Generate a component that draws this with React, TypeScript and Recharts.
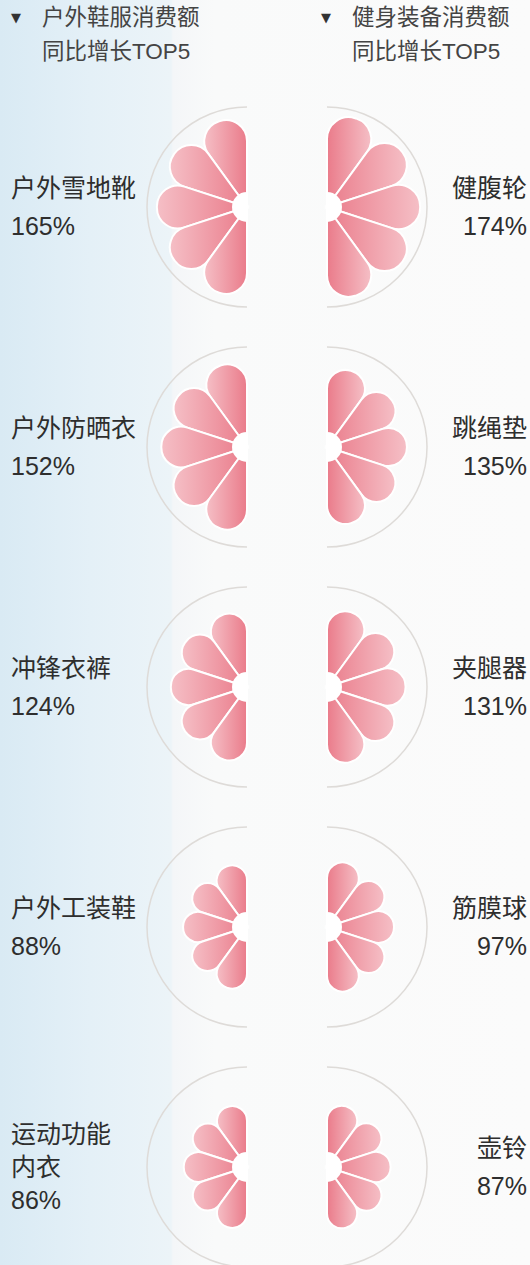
import React from 'react';
import { PieChart, Pie } from 'recharts';

const leftTitle = ['户外鞋服消费额', '同比增长TOP5'];
const rightTitle = ['健身装备消费额', '同比增长TOP5'];

const leftItems = [['户外雪地靴'], ['户外防晒衣'], ['冲锋衣裤'], ['户外工装鞋'], ['运动功能', '内衣']];
const leftGrowth = [165, 152, 124, 88, 86];
const rightItems = [['健腹轮'], ['跳绳垫'], ['夹腿器'], ['筋膜球'], ['壶铃']];
const rightGrowth = [174, 135, 131, 97, 87];

// five equal petals per half flower
const petals = [{ v: 1 }, { v: 1 }, { v: 1 }, { v: 1 }, { v: 1 }];
const single = [{ v: 1 }];

// growth % -> petal length
const petalRadius = (g: number) => 34 + 0.34 * g;

const FONT = '"Liberation Sans", "Noto Sans CJK SC", sans-serif';
const ROW_H = 240;
const FIRST_CY = 207;
const LCX = 247;
const RCX = 327;

function Flower({ row }: { row: number }) {
  const rl = petalRadius(leftGrowth[row]);
  const rr = petalRadius(rightGrowth[row]);
  const cy = ROW_H / 2;
  return (
    <PieChart width={530} height={ROW_H} margin={{ top: 0, right: 0, bottom: 0, left: 0 }}>
      <defs>
        <linearGradient id={`petalL${row}`} x1="0" y1="0" x2="1" y2="0">
          <stop offset="0%" stopColor="#f5bfc6" />
          <stop offset="100%" stopColor="#ea7b8a" />
        </linearGradient>
        <linearGradient id={`petalR${row}`} x1="0" y1="0" x2="1" y2="0">
          <stop offset="0%" stopColor="#ea7b8a" />
          <stop offset="100%" stopColor="#f5bfc6" />
        </linearGradient>
      </defs>
      <Pie data={single} dataKey="v" cx={LCX} cy={cy} startAngle={90} endAngle={270}
        innerRadius={100} outerRadius={100} fill="none" stroke="#dedbd8" strokeWidth={1.5}
        isAnimationActive={false} />
      <Pie data={single} dataKey="v" cx={RCX} cy={cy} startAngle={90} endAngle={-90}
        innerRadius={100} outerRadius={100} fill="none" stroke="#dedbd8" strokeWidth={1.5}
        isAnimationActive={false} />
      <Pie data={petals} dataKey="v" cx={LCX} cy={cy} startAngle={90} endAngle={270}
        innerRadius={0} outerRadius={rl} cornerRadius={rl * 0.232} paddingAngle={0}
        fill={`url(#petalL${row})`} stroke="#fff" strokeWidth={2} isAnimationActive={false} />
      <Pie data={petals} dataKey="v" cx={RCX} cy={cy} startAngle={90} endAngle={-90}
        innerRadius={0} outerRadius={rr} cornerRadius={rr * 0.232} paddingAngle={0}
        fill={`url(#petalR${row})`} stroke="#fff" strokeWidth={2} isAnimationActive={false} />
      <Pie data={single} dataKey="v" cx={LCX} cy={cy} startAngle={90} endAngle={270}
        innerRadius={0} outerRadius={15} fill="#fff" stroke="none" isAnimationActive={false} />
      <Pie data={single} dataKey="v" cx={RCX} cy={cy} startAngle={90} endAngle={-90}
        innerRadius={0} outerRadius={15} fill="#fff" stroke="none" isAnimationActive={false} />
    </PieChart>
  );
}

function Label({ row, side }: { row: number; side: 'left' | 'right' }) {
  const lines = side === 'left' ? leftItems[row] : rightItems[row];
  const growth = side === 'left' ? leftGrowth[row] : rightGrowth[row];
  const all = [...lines, `${growth}%`];
  const lh = all.length > 2 ? 33 : 38;
  const cy = FIRST_CY + row * ROW_H;
  const pos: React.CSSProperties = side === 'left' ? { left: 11, textAlign: 'left' } : { right: 3, textAlign: 'right' };
  return (
    <div style={{ position: 'absolute', top: cy - (all.length * lh) / 2, ...pos, fontSize: 25, lineHeight: `${lh}px`, color: '#2e2e2e', whiteSpace: 'nowrap' }}>
      {all.map((t, i) => <div key={i}>{t}</div>)}
    </div>
  );
}

function Header({ lines, x }: { lines: string[]; x: number }) {
  return (
    <div style={{ position: 'absolute', top: 1, left: x, color: '#444', fontSize: 22.5, lineHeight: '34px', whiteSpace: 'nowrap' }}>
      <span style={{ position: 'absolute', left: -31, top: 0, fontSize: 13, color: '#333', fontFamily: '"DejaVu Sans", sans-serif' }}>▼</span>
      {lines.map((t, i) => <div key={i}>{t}</div>)}
    </div>
  );
}

export default function App() {
  return (
    <div style={{
      position: 'absolute', left: 0, top: 0, width: 530, height: 1265, overflow: 'hidden', fontFamily: FONT,
      background: 'linear-gradient(to right, #d9eaf4 0px, #e4f0f7 90px, #ecf4f8 171px, #f4f6f8 173px, #f9fafa 215px, #fbfbfb 530px)',
    }}>
      <Header lines={leftTitle} x={42} />
      <Header lines={rightTitle} x={352} />
      {leftGrowth.map((_, i) => (
        <div key={i} style={{ position: 'absolute', left: 0, top: FIRST_CY + i * ROW_H - ROW_H / 2 }}>
          <Flower row={i} />
        </div>
      ))}
      {leftGrowth.map((_, i) => <Label key={`l${i}`} row={i} side="left" />)}
      {rightGrowth.map((_, i) => <Label key={`r${i}`} row={i} side="right" />)}
    </div>
  );
}
